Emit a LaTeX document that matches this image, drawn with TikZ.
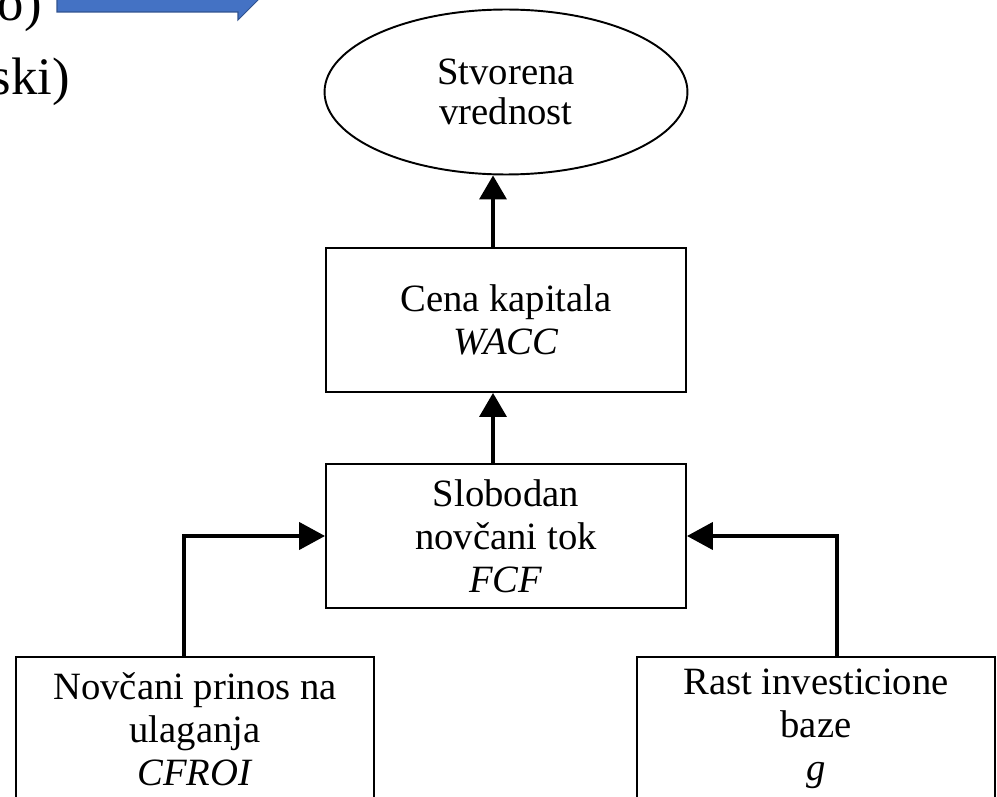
\documentclass[tikz,border=0pt]{standalone}
\usepackage{fontspec}
\setmainfont{Liberation Serif}
\usetikzlibrary{shapes.geometric,arrows.meta}
\definecolor{slideblue}{HTML}{4472C4}
\definecolor{slideedge}{HTML}{2F528F}
\tikzset{box/.style={draw,line width=1.1pt,align=center,inner sep=0pt,minimum width=7.2cm,minimum height=2.88cm,font=\fontsize{22}{24.4}\selectfont},
         oval/.style={box,ellipse,minimum width=7.26cm,minimum height=3.3cm,font=\fontsize{22}{23}\selectfont},
         upflow/.style={line width=2pt,-{Triangle[length=0.48cm,width=0.54cm]}},
         sideflow/.style={line width=2.4pt,-{Triangle[length=0.52cm,width=0.54cm]}},
         leftover/.style={anchor=base east,inner sep=0pt,font=\fontsize{30}{36}\selectfont}}

\begin{document}
\begin{tikzpicture}[x=0.02cm,y=-0.02cm]
                  \useasboundingbox (0,0) rectangle (997,797);
                  \clip (0,0) rectangle (997,797);
                  % rest of the slide text
                  \node[leftover] (prevA) at (42,21) {o)};
                  \node[leftover] (prevB) at (70,95) {ski)};
                  \draw[fill=slideblue,draw=slideedge,line width=0.6pt] (57,-12) -- (238,-12) -- (238,-20) -- (258,0) -- (238,20) -- (238,12) -- (57,12) -- cycle;
                  % diagram
                  \node[oval] (val) at (506,92) {Stvorena\\vrednost};
                  \node[box] (wacc) at (506,320) {Cena kapitala\\\textit{WACC}};
                  \node[box] (fcf) at (506,536) {Slobodan\\novčani tok\\\textit{FCF}};
                  \node[box,anchor=north,minimum width=7.16cm] (cfroi) at (195,656) {Novčani prinos na\\ulaganja\\\textit{CFROI}};
                  \node[box,anchor=north,minimum width=7.16cm] (rast) at (816,656) {Rast investicione\\baze\\\textit{g}};
                  \draw[upflow] ([xshift=-0.26cm]fcf.north) -- ([xshift=-0.26cm]wacc.south);
                  \draw[upflow] ([xshift=-0.26cm]wacc.north) -- ([xshift=-0.26cm]val.south);
                  \draw[sideflow] ([xshift=-0.22cm]cfroi.north) |- (fcf.west);
                  \draw[sideflow] ([xshift=0.42cm]rast.north) |- (fcf.east);
              \end{tikzpicture}
\end{document}
